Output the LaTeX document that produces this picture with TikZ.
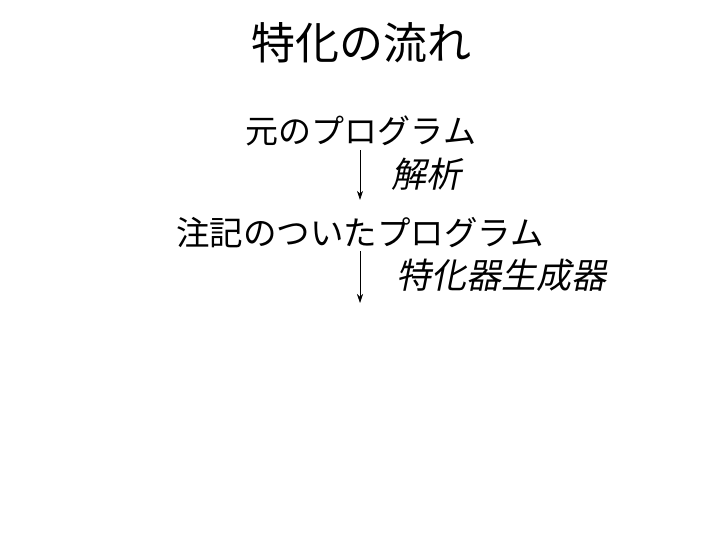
\documentclass[tikz,border=0pt]{standalone}
\usepackage{fontspec}
\setmainfont{Noto Sans CJK JP}
\newfontfamily\slantcjk[FakeSlant=0.2]{Noto Sans CJK JP}
\usepackage{tikz}
\usetikzlibrary{arrows.meta}

\begin{document}
\begin{tikzpicture}[x=1pt,y=-1pt,
                    line node/.style={anchor=base,inner xsep=0pt,inner ysep=3pt,text height=26pt,text depth=3pt},
                    step label/.style={anchor=base west,inner sep=0pt,font=\slantcjk\fontsize{35}{40}\selectfont},
                    flow/.style={-{Stealth[length=9pt,width=6pt]},line width=0.6pt}]
  \useasboundingbox (0,0) rectangle (720,540);

  \node[anchor=base,inner sep=0pt,font=\fontsize{44}{50}\selectfont] (title) at (361,60) {特化の流れ};
  \node[line node,font=\fontsize{33}{38}\selectfont] (src) at (361,144) {元のプログラム};
  \node[line node,font=\fontsize{33.5}{38}\selectfont] (ann) at (360,245) {注記のついたプログラム};
  \node[step label] (analysis) at (391,188) {解析};
  \node[step label] (gengen) at (396,288) {特化器生成器};
  \coordinate (out) at (360,303);

  \draw[flow] (src.south -| ann) -- ([yshift=16pt]ann.north);
  \draw[flow] (ann.south) -- (out);
\end{tikzpicture}
\end{document}
